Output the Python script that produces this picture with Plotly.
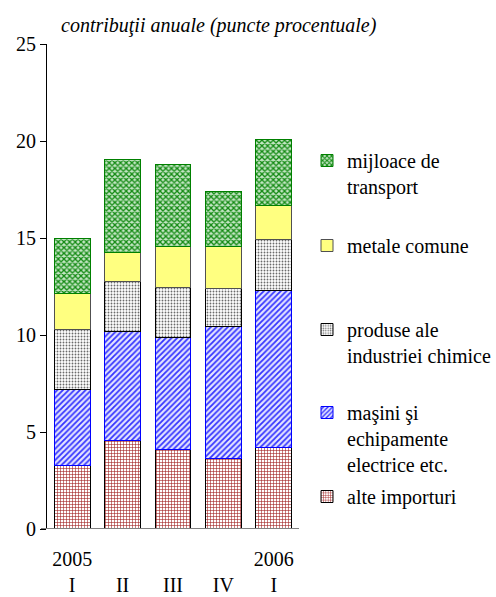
import plotly.graph_objects as go

# Quarterly periods and their two-line axis labels (year only on the first quarter)
quarters = ["2005-I", "2005-II", "2005-III", "2005-IV", "2006-I"]
tick_labels = ["2005<br>I", " <br>II", " <br>III", " <br>IV", "2006<br>I"]

# Contributions (percentage points), stacked bottom to top
alte_importuri = [3.25, 4.55, 4.1, 3.65, 4.2]
masini = [3.95, 5.65, 5.75, 6.8, 8.1]
produse_chimice = [3.1, 2.55, 2.6, 1.95, 2.6]
metale_comune = [1.85, 1.5, 2.1, 2.15, 1.8]
mijloace_transport = [2.85, 4.8, 4.25, 2.85, 3.4]

series_names = [
    "alte importuri",
    "maşini şi<br>echipamente<br>electrice etc.",
    "produse ale<br>industriei chimice",
    "metale comune",
    "mijloace de<br>transport",
]
series_values = [alte_importuri, masini, produse_chimice, metale_comune, mijloace_transport]

styles = [
    dict(bg="#ffffff", fg="#a02020", shape="+", size=3, solidity=0.35, line="#000000"),
    dict(bg="#e4e4ff", fg="#3535ff", shape="/", size=4, solidity=0.45, line="#0000ff"),
    dict(bg="#ffffff", fg="#6a6a6a", shape=".", size=3, solidity=0.3, line="#000000"),
    dict(bg="#ffff80", fg="#ffff80", shape="", size=4, solidity=0.3, line="#505050"),
    dict(bg="#c4e6c4", fg="#138a13", shape="x", size=4, solidity=0.55, line="#008000"),
]

FONT = "Liberation Serif"

# legend slot (first text line centre) for each series, in pixels from the top
legend_rows = [497, 413, 330, 246, 161]

W, H = 496, 597
ML, MR, MT, MB = 47, 197, 44, 68
plot_h = H - MT - MB
plot_w = W - ML - MR

fig = go.Figure()
for i, (name, vals, st) in enumerate(zip(series_names, series_values, styles)):
    legend_id = "legend" if i == 0 else f"legend{i + 1}"
    fig.add_trace(go.Bar(
        x=quarters, y=vals, name=name, legend=legend_id,
        marker=dict(
            color=st["bg"],
            line=dict(color=st["line"], width=1),
            pattern=dict(shape=st["shape"], bgcolor=st["bg"], fgcolor=st["fg"],
                         size=st["size"], solidity=st["solidity"], fillmode="replace"),
        ),
    ))

legend_layouts = {}
for i, row in enumerate(legend_rows):
    key = "legend" if i == 0 else f"legend{i + 1}"
    legend_layouts[key] = dict(
        x=(307 - ML) / plot_w,
        xanchor="left",
        y=(H - MB - (row - 20)) / plot_h,
        yanchor="top",
        valign="top",
        bgcolor="rgba(0,0,0,0)",
        borderwidth=0,
        font=dict(family=FONT, size=20, color="#000000"),
        itemclick=False,
    )

fig.update_layout(
    width=W, height=H,
    margin=dict(l=ML, r=MR, t=MT, b=MB, pad=0, autoexpand=False),
    paper_bgcolor="#ffffff",
    plot_bgcolor="#ffffff",
    barmode="stack",
    bargap=0.286,
    showlegend=True,
    font=dict(family=FONT, size=20, color="#000000"),
    xaxis=dict(
        type="category",
        tickmode="array", tickvals=quarters, ticktext=tick_labels,
        ticks="", showgrid=False, zeroline=False,
        showline=False, automargin=False,
        ticklabelstandoff=16,
        tickfont=dict(family=FONT, size=20, color="#000000"),
    ),
    yaxis=dict(
        range=[0, 25], tickvals=[0, 5, 10, 15, 20, 25],
        ticks="outside", ticklen=6, tickwidth=1, tickcolor="#000000",
        showline=True, linecolor="#000000", linewidth=1,
        showgrid=False, zeroline=False, automargin=False,
        tickfont=dict(family=FONT, size=20, color="#000000"),
    ),
    annotations=[dict(
        text="<i>contribuţii anuale (puncte procentuale)</i>",
        xref="paper", yref="paper",
        x=(59 - ML) / plot_w, xanchor="left",
        y=(H - MB - 26) / plot_h, yanchor="middle",
        showarrow=False,
        font=dict(family=FONT, size=20, color="#000000"),
    )],
    shapes=[dict(
        type="line", xref="paper", yref="y",
        x0=-6 / plot_w, x1=1, y0=0, y1=0,
        line=dict(color="#808080", width=2),
        layer="above",
    )],
    **legend_layouts,
)

fig.write_html("out.html")
